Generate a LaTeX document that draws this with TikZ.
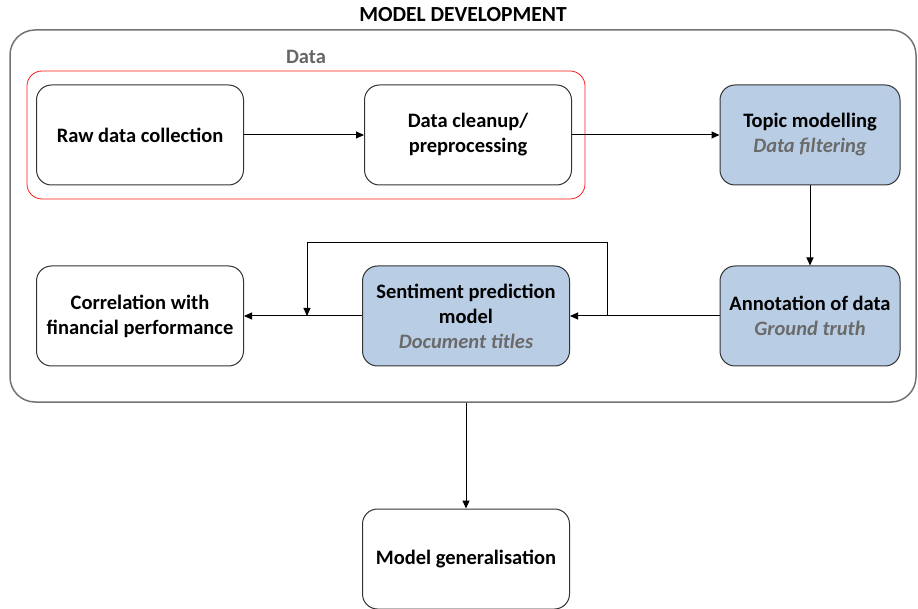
\documentclass[tikz,border=0pt]{standalone}
\usepackage{fontspec}
\setmainfont{Carlito}
\usepackage{tikz}
\usetikzlibrary{positioning,arrows.meta}

\definecolor{stageblue}{HTML}{B9CDE5}
\definecolor{subgray}{HTML}{6A6A6A}
\newcommand{\subtext}[1]{{\color{subgray}\itshape #1}}

\begin{document}
\begin{tikzpicture}[x=1pt,y=1pt,on grid,node distance=181pt,line width=1pt,
    >={Triangle[length=8pt,width=7pt]},
    stage/.style={draw=black!80,fill=white,rounded corners=15pt,minimum width=207pt,
        minimum height=100pt,align=center,font=\bfseries\fontsize{20.5}{25}\selectfont},
    bluestage/.style={stage,fill=stageblue,minimum width=180pt}]
    \useasboundingbox (0,0) rectangle (918,-609);

    % frames
    \node[draw=black!55,line width=1.5pt,rounded corners=25pt,minimum width=906pt,
        minimum height=372pt] (dev) at (463,-216) {};
    \node[font=\bfseries\fontsize{21.5}{24}\selectfont] (title) [above=15pt of dev.north,anchor=center] {MODEL DEVELOPMENT};
    \node[draw=red!90,line width=0.8pt,rounded corners=15pt,minimum width=558pt,
        minimum height=128pt] (data) at (306,-135) {};
    \node[text=black!60,font=\bfseries\fontsize{20.5}{24}\selectfont] (datalabel) [above=14pt of data.north,anchor=center] {Data};

    % \node[style] (identifier) [placement] {display};
    \node[stage] (raw) at (140,-135) {Raw data collection};
    \node[stage] (clean) [right=328pt of raw] {Data cleanup/\\preprocessing};
    \node[bluestage] (topic) [right=342pt of clean] {Topic modelling\\\subtext{Data filtering}};
    \node[bluestage] (annot) [below=of topic] {Annotation of data\\\subtext{Ground truth}};
    \node[stage,fill=stageblue] (sent) [left=344pt of annot] {Sentiment prediction\\model\\\subtext{Document titles}};
    \node[stage] (corr) [left=326pt of sent] {Correlation with\\financial performance};
    \node[stage] (gen) [below=243pt of sent] {Model generalisation};

    \coordinate[right=37pt of sent.east] (tap);
    \coordinate[left=55pt of sent.west] (join);

    \path[->]
    (raw) edge (clean)
    (clean) edge (topic)
    (topic) edge (annot)
    (annot) edge (sent)
    (sent) edge (corr);
    \draw[->] (tap) -- ++(0,73) -| (join);
    \draw[->] (gen.north |- dev.south) -- (gen.north);
\end{tikzpicture}
\end{document}
